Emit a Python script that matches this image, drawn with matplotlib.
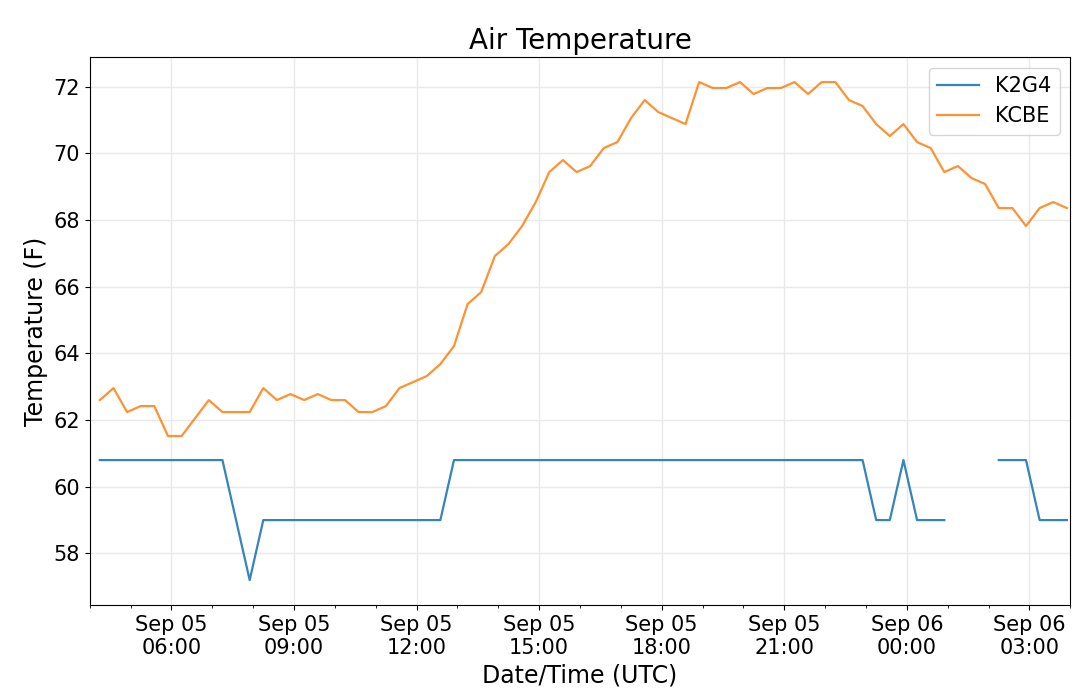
import numpy as np
import pandas as pd
import matplotlib
matplotlib.use("Agg")
import matplotlib.pyplot as plt
import matplotlib.dates as mdates

# observation times: every 20 minutes, Sep 05 04:15 -> Sep 06 03:55 (UTC)
times = pd.date_range("2018-09-05 04:15", "2018-09-06 03:55", freq="20min")

kcbe_temp = [
    62.60, 62.96, 62.24, 62.42, 62.42, 61.52, 61.52, 62.06, 62.60, 62.24,
    62.24, 62.24, 62.96, 62.60, 62.78, 62.60, 62.78, 62.60, 62.60, 62.24,
    62.24, 62.42, 62.96, 63.14, 63.32, 63.68, 64.22, 65.48, 65.84, 66.92,
    67.28, 67.82, 68.54, 69.44, 69.80, 69.44, 69.62, 70.16, 70.34, 71.06,
    71.60, 71.24, 71.06, 70.88, 72.14, 71.96, 71.96, 72.14, 71.78, 71.96,
    71.96, 72.14, 71.78, 72.14, 72.14, 71.60, 71.42, 70.88, 70.52, 70.88,
    70.34, 70.16, 69.44, 69.62, 69.26, 69.08, 68.36, 68.36, 67.82, 68.36,
    68.54, 68.36,
]

k2g4_temp = (
    [60.8] * 10 + [59.0, 57.2] + [59.0] * 14 + [60.8] * 31 +
    [59.0, 59.0, 60.8, 59.0, 59.0, 59.0] + [np.nan] * 3 +
    [60.8] * 3 + [59.0] * 3
)

fig = plt.figure(figsize=(10.8, 6.97), dpi=100)
ax = fig.add_axes([0.083, 0.132, 0.908, 0.786])

ax.plot(times, k2g4_temp, color="tab:blue", lw=1.6, alpha=0.9, label="K2G4")
ax.plot(times, kcbe_temp, color="tab:orange", lw=1.6, alpha=0.85, label="KCBE")

ax.set_xlim(pd.Timestamp("2018-09-05 04:00"), pd.Timestamp("2018-09-06 04:00"))
ax.xaxis.set_major_locator(mdates.HourLocator(byhour=range(0, 24, 3)))
ax.xaxis.set_minor_locator(mdates.HourLocator())
ax.xaxis.set_major_formatter(mdates.DateFormatter("%b %d\n%H:%M"))

ax.grid(True, which="major", color="#e9e9e9", lw=1.0)
ax.set_axisbelow(True)
ax.tick_params(labelsize=15)

ax.set_title("Air Temperature", fontsize=20)
ax.set_xlabel("Date/Time (UTC)", fontsize=17)
ax.set_ylabel("Temperature (F)", fontsize=17)
ax.legend(loc="upper right", fontsize=15)

fig.savefig("out.png", dpi=100)
